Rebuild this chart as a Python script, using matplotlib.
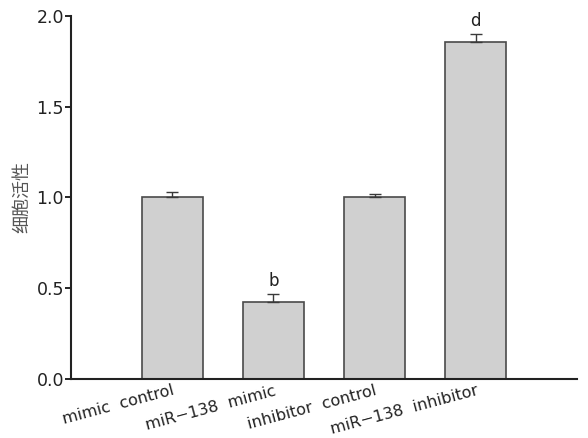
import matplotlib
matplotlib.use('Agg')
import matplotlib.pyplot as plt

groups = ['mimic  control', 'miR\u2212138  mimic', 'inhibitor  control', 'miR\u2212138  inhibitor']
activity = [1.00, 0.425, 1.00, 1.857]
errors = [0.03, 0.042, 0.02, 0.042]
marks = ['', 'b', '', 'd']

plt.rcParams['font.family'] = ['DejaVu Sans', 'Noto Sans CJK SC']

fig = plt.figure(figsize=(5.88, 4.38), dpi=100)
ax = fig.add_axes([0.1207, 0.1347, 0.8606, 0.8293])

x = list(range(len(groups)))
lower = [0] * len(errors)
ax.bar(x, activity, width=0.6, color='#d0d0d0', edgecolor='#4a4a4a', linewidth=1.2,
       yerr=[lower, errors], error_kw=dict(ecolor='#3a3a3a', elinewidth=1, capsize=4.5, capthick=1))

for i, m in enumerate(marks):
    if m:
        ax.text(i, activity[i] + errors[i] + 0.025, m, ha='center', va='bottom',
                fontsize=12, color='#222222')

ax.set_xlim(-1, 4)
ax.set_ylim(0, 2.0)
ax.set_yticks([0.0, 0.5, 1.0, 1.5, 2.0])
ax.set_yticklabels(['0.0', '0.5', '1.0', '1.5', '2.0'], fontsize=12.5, color='#222222')
ax.tick_params(axis='y', direction='out', length=4, width=1.2, pad=1)
ax.tick_params(axis='x', length=0, pad=3)
ax.set_xticks(x)
ax.set_xticklabels(groups, fontsize=11.5, rotation=15, ha='right', rotation_mode='anchor', color='#222222')

for s in ['top', 'right']:
    ax.spines[s].set_visible(False)
for s in ['left', 'bottom']:
    ax.spines[s].set_linewidth(1.5)
    ax.spines[s].set_color('#222222')

ax.set_ylabel('细胞活性', family=['Noto Sans CJK SC'], fontsize=13, color='#555555', labelpad=4)

fig.savefig('out.png', dpi=100)
